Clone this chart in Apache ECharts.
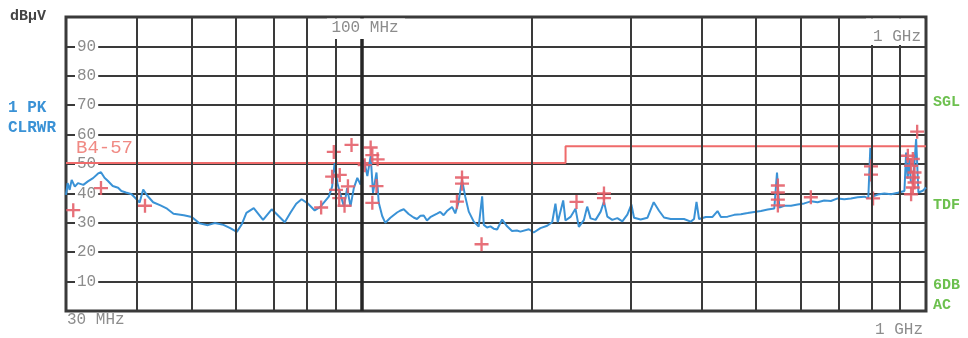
<!DOCTYPE html>
<html>
<head>
<meta charset="utf-8">
<script src="https://cdn.jsdelivr.net/npm/echarts@6/dist/echarts.min.js"></script>
<style>
  html, body { margin: 0; padding: 0; background: #fff; }
  #chart { width: 968px; height: 338px; }
</style>
</head>
<body>
<div id="chart"></div>
<script>
// peak trace, MHz / dBµV
const traceMHz = [
  30.0, 30.2, 30.45, 30.7, 31.1, 31.5, 32.2, 32.8, 33.5, 34.2, 34.6, 35.1, 35.6, 36.3, 37.1, 37.6,
  38.3, 39.2, 40.0, 40.5, 41.1, 41.8, 42.8, 44.1, 45.3, 46.5, 48.5, 50.1, 51.7, 53.5, 55.0, 57.0,
  58.6, 60.2, 61.4, 62.6, 64.5, 67.0, 69.4, 70.8, 73.2, 74.9, 76.7, 78.4, 80.5, 82.7, 84.6, 87.6,
  88.8, 89.7, 90.7, 91.9, 93.2, 94.4, 95.7, 97.0, 98.4, 99.7, 101.1, 102.5, 103.9, 104.9, 106.4, 107.4,
  108.9, 110.3, 112.6, 115.7, 117.1, 118.9, 121.3, 122.1, 123.8, 125.5, 127.3, 129.0, 130.7, 132.5, 134.3, 136.2,
  138.0, 139.9, 141.8, 144.8, 146.7, 148.7, 150.8, 152.8,
  155.0, 158.2, 161.4, 163.7, 164.8, 167.0, 169.3, 171.6, 174.0, 177.6, 181.2, 184.9, 188.6, 191.3, 198.0, 202.0,
  207.6, 213.4, 217.8,
  220.7, 222.8, 227.8, 229.9, 234.7, 239.5, 242.8, 247.8, 251.2, 254.7, 260.0, 265.4, 269.0, 272.7, 278.3, 284.1,
  289.9, 295.9, 300.8, 304.1, 312.4, 321.1, 329.5, 336.7, 343.6, 353.1, 362.9, 372.8, 383.2, 388.4, 392.3, 396.4,
  407.5, 418.8, 427.4, 433.3, 445.3, 457.5, 470.1, 483.2, 496.4, 510.2, 524.4, 538.7, 544.7, 549.9, 561.1, 576.7,
  592.3, 608.6, 625.3, 642.7, 660.3, 678.6, 697.5, 716.6, 736.3, 756.7, 777.6, 790.3, 796.9, 803.4, 821.3, 843.8,
  867.3, 891.4, 915.8, 922.1, 928.0, 934.5, 940.0, 947.7, 953.0, 960.5, 969.6, 987.1, 1000
]
const traceLevel = [
  39.5, 43.5, 41.2, 44.6, 42.3, 43.5, 42.9, 44.1, 45.2, 46.8, 47.2, 45.3, 44.2, 42.5, 41.9, 40.8,
  40.3, 39.7, 38.0, 36.9, 41.3, 39.2, 37.0, 35.9, 34.8, 33.1, 32.6, 32.0, 29.8, 29.2, 29.9, 29.3,
  28.2, 26.9, 29.4, 33.4, 35.0, 31.0, 34.6, 33.0, 30.2, 33.4, 36.5, 38.0, 36.5, 34.2, 35.4, 38.9,
  42.3, 50.3, 43.5, 39.5, 35.5, 41.8, 35.6, 41.8, 45.3, 43.0, 51.5, 45.9, 52.7, 40.2, 47.1, 36.8,
  32.3, 30.0, 31.7, 33.5, 34.1, 34.6, 33.0, 33.0, 31.8, 31.3, 32.4, 32.5, 30.8, 31.9, 32.5, 33.1,
  33.7, 32.6, 34.0, 35.4, 33.2, 37.2, 44.7, 38.9,
  33.8, 30.4, 28.7, 39.0, 29.3, 28.4, 28.8, 28.0, 27.7, 31.1, 28.8, 27.2, 27.4, 27.0, 27.8, 26.7,
  28.2, 29.0, 30.2,
  36.5, 30.2, 37.6, 30.8, 32.0, 34.8, 28.6, 30.9, 35.5, 31.5, 31.0, 33.8, 37.2, 32.1, 31.0, 31.6,
  30.5, 32.8, 36.2, 31.7, 31.1, 31.7, 37.0, 34.1, 31.8, 31.3, 31.3, 31.3, 30.4, 31.3, 37.1, 31.3,
  32.0, 32.0, 34.0, 32.0, 32.1, 32.7, 32.9, 33.3, 33.7, 34.0, 34.5, 34.9, 47.1, 35.2, 35.8, 35.8,
  36.2, 36.6, 37.3, 37.0, 37.6, 37.4, 38.3, 38.0, 38.3, 38.7, 38.9, 38.3, 55.5, 38.9, 39.6, 40.0,
  39.7, 40.2, 40.8, 53.9, 45.0, 51.7, 44.0, 43.7, 49.0, 58.5, 40.3, 40.9, 42.0
]

// final measurement markers (+)
const markerMHz = [
  30.9, 34.6, 41.4, 84.9, 89.4, 88.8, 91.6, 90.2, 91.4, 94.7, 93.4, 96.1, 101.4, 103.9,
  104.6, 106.9, 106.4, 104.6, 150.8, 150.8, 147.7, 163.3, 240.5, 269.0, 269.0,
  546.6, 546.6, 546.6, 546.6, 625.3, 799.1, 799.1, 805.8,
  964.6, 928.6, 947.7, 941.1, 954.3, 947.7, 954.3, 947.7, 941.1
]
const markerLevel = [
  34.3, 41.8, 35.8, 35.2, 54.1, 45.7, 46.3, 41.2, 38.4, 42.4, 35.8, 56.5, 49.6, 55.6,
  53.0, 51.6, 42.5, 36.8, 45.4, 43.3, 37.2, 22.7, 37.1, 40.0, 38.4,
  42.7, 40.3, 37.9, 35.9, 38.7, 49.2, 46.4, 38.3,
  61.0, 52.8, 51.7, 49.4, 47.1, 45.4, 43.7, 42.0, 39.7
]

// limit line B4-57
const limitMHz = [30, 230, 230, 1000]
const limitLevel = [50.3, 50.3, 56, 56]

// frequency grid
const gridMHz = [40, 50, 60, 70, 80, 90, 200, 300, 400, 500, 600, 700, 800, 900]
const refMHz = 100

const mono = '"Liberation Mono", "DejaVu Sans Mono", monospace'
const gridColor = '#3a3a3a'
const grey = '#8c8c8c'
const blue = '#3a92d6'
const red = '#e4606a'
const green = '#6cc04e'

const pairs = (xs, ys) => xs.map((x, i) => [x, ys[i]])
const plus = 'path://M5,0h2v5h5v2h-5v5h-2v-5h-5v-2h5z'

function text(str, x, y, color, size, opts = {}) {
  return {
    type: 'text', x, y, z: 60, silent: true,
    style: {
      text: str, fill: color,
      font: `${opts.bold ? 'bold ' : ''}${size}px ${mono}`,
      align: opts.align || 'left', verticalAlign: 'middle'
    }
  }
}

const chart = echarts.init(document.getElementById('chart'))
chart.setOption({
  animation: false,
  grid: {
    left: 66, right: 42, top: 17, height: 294,
    show: true, borderColor: gridColor, borderWidth: 3
  },
  xAxis: {
    type: 'log', logBase: 10, min: 30, max: 1000,
    axisLine: { show: false }, axisTick: { show: false },
    axisLabel: { show: false }, splitLine: { show: false }
  },
  yAxis: {
    type: 'value', min: 0, max: 100, interval: 10,
    axisLine: { show: false }, axisTick: { show: false },
    splitLine: { lineStyle: { color: gridColor, width: 2 } },
    axisLabel: {
      inside: true, margin: 9, color: grey, fontFamily: mono, fontSize: 16,
      backgroundColor: '#fff', padding: [0, 2],
      showMinLabel: false, showMaxLabel: false
    }
  },
  series: [
    {
      type: 'line', data: [], z: 1, silent: true,
      markLine: {
        silent: true, symbol: 'none', animation: false,
        label: { show: false },
        emphasis: { disabled: true },
        lineStyle: { color: gridColor, width: 2, type: 'solid' },
        data: gridMHz.map(f => ({ xAxis: f }))
          .concat([{ xAxis: refMHz, lineStyle: { color: '#262626', width: 3.5, type: 'solid' } }])
      }
    },
    {
      name: 'B4-57', type: 'line', z: 2, silent: true,
      data: pairs(limitMHz, limitLevel),
      showSymbol: false,
      lineStyle: { color: '#ef6b6b', width: 2 }
    },
    {
      name: '1 PK', type: 'line', z: 3, silent: true,
      data: pairs(traceMHz, traceLevel),
      showSymbol: false,
      lineStyle: { color: blue, width: 2 }
    },
    {
      name: 'final', type: 'scatter', z: 4, silent: true,
      data: pairs(markerMHz, markerLevel),
      symbol: plus, symbolSize: 14,
      itemStyle: { color: red, opacity: 0.9 }
    }
  ],
  graphic: [
    { type: 'rect', z: 55, silent: true, shape: { x: 327, y: 18.6, width: 78, height: 20.4 }, style: { fill: '#fff' } },
    { type: 'rect', z: 55, silent: true, shape: { x: 866, y: 18.6, width: 58, height: 26.4 }, style: { fill: '#fff' } },
    text('100 MHz', 365, 28, grey, 16, { align: 'center' }),
    text('1 GHz', 897, 37, grey, 16, { align: 'center' }),
    text('dBµV', 10, 16, '#444', 15, { bold: true }),
    text('1 PK', 8, 108, blue, 16, { bold: true }),
    text('CLRWR', 8, 128, blue, 16, { bold: true }),
    text('B4-57', 76, 148, '#f08a84', 19),
    text('SGL', 933, 102, green, 15, { bold: true }),
    text('TDF', 933, 205, green, 15, { bold: true }),
    text('6DB', 933, 285, green, 15, { bold: true }),
    text('AC', 933, 305, green, 15, { bold: true }),
    text('30 MHz', 67, 320, grey, 16),
    text('1 GHz', 875, 330, grey, 16)
  ]
})
</script>
</body>
</html>
